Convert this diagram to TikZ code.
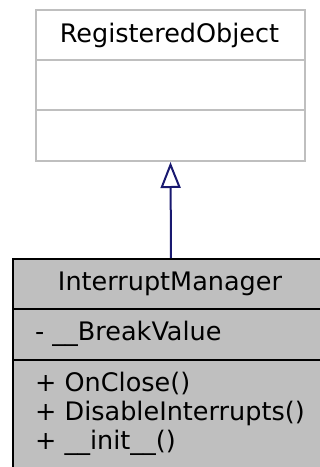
\documentclass[tikz,border=0pt]{standalone}
\usepackage{fontspec}
\setmainfont{DejaVu Sans}
\usetikzlibrary{arrows.meta}
\definecolor{boxgray}{HTML}{BFBFBF}
\definecolor{arrowblue}{HTML}{191970}
\begin{document}
\begin{tikzpicture}[x=1pt,y=-1pt,
  lbl/.style={font=\fontsize{25.5}{29}\selectfont, inner sep=0},
  classbox/.style={rectangle, inner sep=0, anchor=north west, line width=2pt},
  divider/.style={line width=2pt}]
\useasboundingbox (0,0) rectangle (320,467);
% base class
\node[classbox, draw=boxgray, fill=white, minimum width=269, minimum height=151] (reg) at (35,9) {};
\draw[divider, boxgray] (35,60) -- (304,60);
\draw[divider, boxgray] (35,110) -- (304,110);
\node[lbl, anchor=base] (regt) at (169.5,42) {RegisteredObject};
% derived class
\node[classbox, draw=black, fill=boxgray, minimum width=316, minimum height=215] (im) at (12,258) {};
\draw[divider] (12,309) -- (328,309);
\draw[divider] (12,360) -- (328,360);
\node[lbl, anchor=base] (imt) at (170,290) {InterruptManager};
\node[lbl, anchor=base west] (a1) at (35,340) {- \_\_BreakValue};
\node[lbl, anchor=base west] (m1) at (35,391) {+ OnClose()};
\node[lbl, anchor=base west] (m2) at (35,420) {+ DisableInterrupts()};
\node[lbl, anchor=base west] (m3) at (35,449) {+ \_\_init\_\_()};
% inheritance arrow
\draw[arrowblue, line width=2pt, -{Triangle[open, length=26, width=20, line width=2pt]}] (im.north) -- (reg.south);
\end{tikzpicture}
\end{document}
